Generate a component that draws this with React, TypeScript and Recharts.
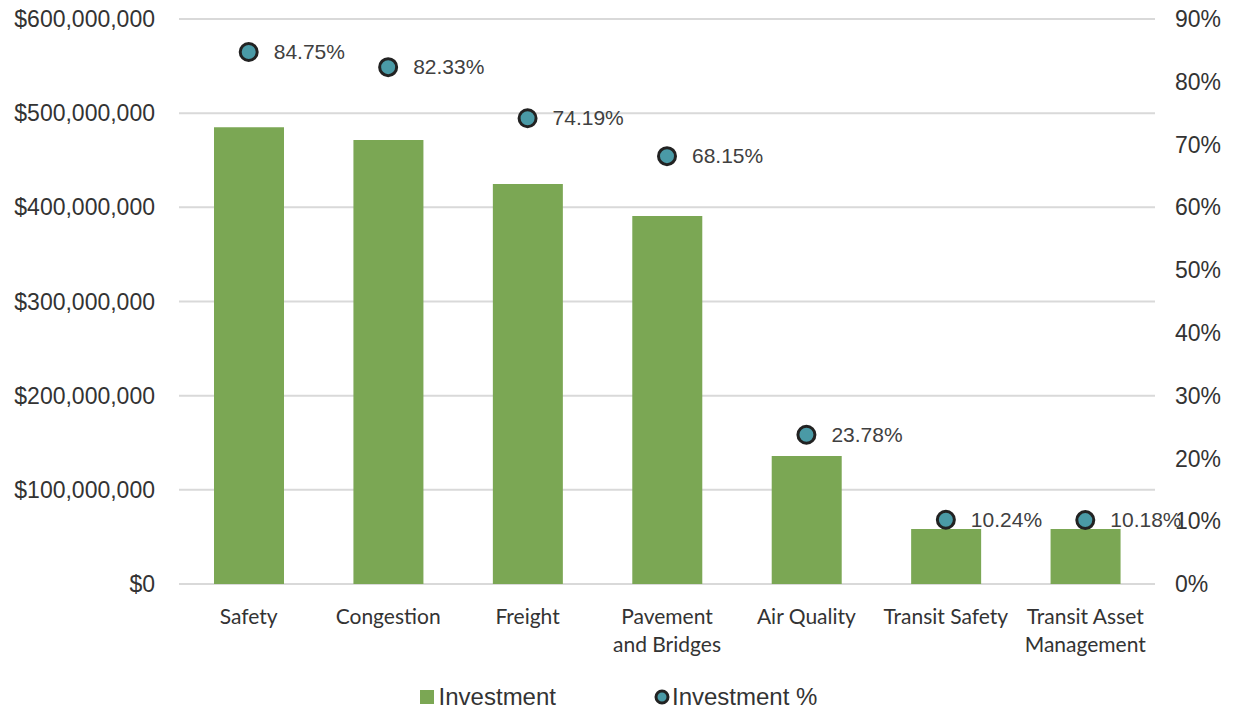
import React from 'react';
import { ComposedChart, Bar, Scatter, XAxis, YAxis, CartesianGrid, Legend, LabelList } from 'recharts';

const categories = ['Safety', 'Congestion', 'Freight', 'Pavement\nand Bridges', 'Air Quality', 'Transit Safety', 'Transit Asset\nManagement'];
const investment = [485000000, 471500000, 424800000, 390800000, 135900000, 58400000, 58400000];
const investmentPct = [0.8475, 0.8233, 0.7419, 0.6815, 0.2378, 0.1024, 0.1018];
const leftTicks = [0, 100000000, 200000000, 300000000, 400000000, 500000000, 600000000];
const rightTicks = [0, 0.1, 0.2, 0.3, 0.4, 0.5, 0.6, 0.7, 0.8, 0.9];

const data = categories.map((c, i) => ({ name: c, inv: investment[i], pct: investmentPct[i] }));

const BAR = '#7BA754';
const TEAL = '#4A9AA6';
const DARK = '#222';
const AXIS_FONT = 'Liberation Sans, Arial, sans-serif';

const fmtMoney = (v: number) => '$' + v.toLocaleString('en-US');
const fmtPct = (v: number) => Math.round(v * 100) + '%';

const CatTick = (props: any) => {
  const { x, y, payload } = props;
  const lines = String(payload.value).split('\n');
  return (
    <text x={x} y={y} textAnchor="middle" fill="#333" fontFamily="Lato, sans-serif" fontSize={21}>
      {lines.map((l, i) => (
        <tspan key={i} x={x} dy={i === 0 ? 32 : 28}>{l}</tspan>
      ))}
    </text>
  );
};

const Dot = (props: any) => {
  const { cx, cy } = props;
  return <circle cx={cx} cy={cy} r={8.5} fill={TEAL} stroke={DARK} strokeWidth={3} />;
};

const PctLabel = (props: any) => {
  const { x, y, width, height, value } = props;
  const cx = x + (width || 0) / 2;
  const cy = y + (height || 0) / 2;
  return (
    <text x={cx + 25} y={cy} dy={7} textAnchor="start" fill="#404040" fontFamily={AXIS_FONT} fontSize={21}>
      {(value * 100).toFixed(2) + '%'}
    </text>
  );
};

const LegendContent = () => (
  <div style={{ display: 'flex', justifyContent: 'center', alignItems: 'center', height: 24, fontFamily: AXIS_FONT, fontSize: 24, color: '#333' }}>
    <span style={{ display: 'inline-block', width: 14, height: 14, background: BAR, marginRight: 5 }} />
    <span style={{ marginRight: 98 }}>Investment</span>
    <svg width={16} height={16} style={{ marginRight: 2 }}>
      <circle cx={8} cy={8} r={6} fill={TEAL} stroke={DARK} strokeWidth={3} />
    </svg>
    <span>Investment %</span>
  </div>
);

export default function App() {
  return (
    <div style={{ position: 'absolute', left: 0, top: 0, width: 1237, height: 711, background: '#fff' }}>
      <ComposedChart width={1237} height={711} data={data} margin={{ top: 19, right: 0, bottom: 0, left: 0 }} barCategoryGap="25%">
        <CartesianGrid vertical={false} stroke="#d9d9d9" strokeWidth={2} yAxisId="left" />
        <XAxis dataKey="name" tick={<CatTick />} axisLine={false} tickLine={false} interval={0} height={90} />
        <YAxis yAxisId="left" orientation="left" width={179} domain={[0, 600000000]} ticks={leftTicks}
          tickFormatter={fmtMoney} axisLine={false} tickLine={false} tickSize={0} tickMargin={24}
          tick={{ fill: '#333', fontFamily: AXIS_FONT, fontSize: 23 }} interval={0} />
        <YAxis yAxisId="right" orientation="right" width={82} domain={[0, 0.9]} ticks={rightTicks}
          tickFormatter={fmtPct} axisLine={false} tickLine={false} tickSize={0} tickMargin={20}
          tick={{ fill: '#333', fontFamily: AXIS_FONT, fontSize: 23 }} interval={0} />
        <Bar yAxisId="left" dataKey="inv" fill={BAR} isAnimationActive={false} barSize={70} />
        <Scatter yAxisId="right" dataKey="pct" shape={<Dot />} isAnimationActive={false}>
          <LabelList dataKey="pct" content={<PctLabel />} />
        </Scatter>
        <Legend verticalAlign="bottom" height={37} wrapperStyle={{ bottom: -11 }} content={<LegendContent />} />
      </ComposedChart>
    </div>
  );
}
